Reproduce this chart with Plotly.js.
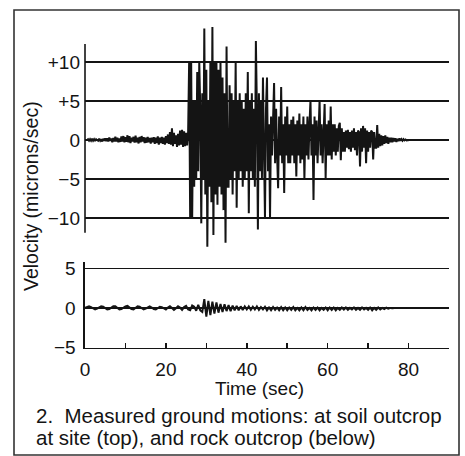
<!DOCTYPE html>
<html>
<head>
<meta charset="utf-8">
<script src="https://cdn.plot.ly/plotly-3.0.1.min.js"></script>
<style>html,body{margin:0;padding:0;background:#fff;}#chart{width:465px;height:456px;}</style>
</head>
<body>
<div id="chart"></div>
<script>
// ---- Data ----
// Soil outcrop at site (top panel): velocity in microns/sec, sampled every 0.25 s from t = 0.5 s
const soilStart = 0.5;
const soilStep = 0.25;
const soilVelocity = [
  // 0.5 - 5.25 s
  0, 0.1, -0.1, 0.1, -0.1, 0.15, -0.1, 0.1, -0.15, 0.1, 0, -0.1, 0.15, -0.1, 0.1, -0.2, 0.15, -0.1, 0.2, -0.15,
  // 5.5 - 10.25 s
  0.2, -0.2, 0.3, -0.1, 0.2, -0.3, 0.25, -0.2, 0.4, -0.2, 0.3, -0.3, 0.2, -0.25, 0.45, -0.2, 0.5, -0.3, 0.35, -0.25,
  // 10.5 - 15.25 s
  0.6, -0.3, 0.5, -0.4, 0.3, -0.2, 0.4, -0.35, 0.55, -0.3, 0.3, -0.45, 0.4, -0.3, 0.5, -0.2, 0.35, -0.4, 0.3, -0.35,
  // 15.5 - 20.25 s
  0.4, -0.3, 0.25, -0.45, 0.3, -0.3, 0.35, -0.5, 0.3, -0.4, 0.45, -0.6, 0.3, -0.4, 0.4, -0.5, 0.3, -0.6, 0.5, -0.4,
  // 20.5 - 25.25 s
  0.7, -0.5, 1.0, -0.6, 1.5, -0.8, 0.9, -0.5, 0.6, -0.9, 0.8, -0.7, 1.2, -0.6, 1.3, -0.9, 1.1, -0.8, 0.9, -0.7,
  // 25.5 - 30.25 s
  1.0, 10, -10, 10, -10, 5, -6, 5, -5, 8.7, -4, 10, 4, -10.7, 6, -5, 14.3, -7, 9, -13.7,
  // 30.5 - 35.25 s
  5, -6, 10, -8, 14.5, -12.2, 10, -7, 10, -8.3, 9, -6, 10, -7, 8, -9, 6, -13.2, 12, -6,
  // 35.5 - 40.25 s
  -6, 7, -5, 6, -7, 5, -4, 9.9, -8.7, 5, -5, 6, -4, 5, -6, 4, -5, 6, -4, 8.7,
  // 40.5 - 45.25 s
  -9.4, 5, -4, 6, -5, 4, -6, 12.7, 4, -11.5, 6, -4, 5, -5, 8, -3, -10, 4, 8, -4,
  // 45.5 - 50.25 s
  2, -10, 3, -2, 4, 7.3, -3, 4, -2, -6.2, 3, -2, 6.8, -3, 2, -6.8, 3, -2, 4.3, -3,
  // 50.5 - 55.25 s
  2, -3, 2.6, -2, 3, -3, 2, -4.7, 2.5, -2, 3.4, -3, 2, -2.5, 3, -5, 2, -2, 3, -2.5,
  // 55.5 - 60.25 s
  2, 5.1, -2, 2, -7.7, 3, -2, 2.5, -3, 2, 5.1, -2, 2, -3, 2, 4.6, -4.9, 2, -2, 2.5,
  // 60.5 - 65.25 s
  -2, 4.3, -2.5, 2, -1.5, 2, -2, 1.5, -1.5, 1.8, 2.2, -2.6, 1.5, -1.5, 1, -1.5, 1.2, -1, 1.3, -1.2,
  // 65.5 - 70.25 s
  1, -1.5, 1.2, -1, 1.5, -1.3, 1, -2, 1.2, 1, -3.4, 1.5, -1.5, 1.8, -1, 1.5, -3.0, 1.2, -1.5, 1,
  // 70.5 - 75.25 s
  -1, 1.2, 1, -2.5, 1, -1, -1, 1.9, -1, 0.8, -0.8, 0.6, -0.7, 0.5, -0.5, 0.6, -0.4, 0.4, -0.5, 0.3,
  // 75.5 - 80.5 s
  -0.3, 0.3, -0.3, 0.25, -0.2, 0.2, -0.25, 0.15, -0.15, 0.2, -0.1, 0.1, -0.1, 0.1, -0.05, 0.05, -0.05, 0, 0, 0, 0
];

// Rock outcrop (bottom panel): velocity in microns/sec, sampled every 0.5 s from t = 0 s
const rockStart = 0;
const rockStep = 0.5;
const rockVelocity = [
  // 0 - 9.5 s
  0, 0.1, 0.2, 0.1, -0.1, -0.2, -0.1, 0.1, 0.2, 0.15, -0.05, -0.2, -0.15, 0.05, 0.2, 0.2, 0, -0.2, -0.15, 0.05,
  // 10 - 19.5 s
  0.2, 0.25, 0.05, -0.15, -0.2, 0, 0.2, 0.15, -0.05, -0.2, -0.1, 0.1, 0.2, 0.05, -0.15, -0.2, 0, 0.15, 0.1, -0.1,
  // 20 - 29.5 s
  -0.2, 0.05, 0.2, 0, -0.25, -0.05, 0.2, 0.05, -0.25, 0.1, 0.25, -0.2, -0.3, 0.3, 0.15, -0.35, 0.4, -0.3, -0.5, 1.1,
  // 30 - 39.5 s
  -1.1, 0.9, -0.9, 0.8, -0.7, 0.7, -0.6, 0.5, -0.5, 0.45, -0.4, 0.35, -0.4, 0.3, -0.3, 0.25, -0.3, 0.2, -0.25, 0.2,
  // 40 - 49.5 s
  -0.2, 0.2, -0.25, 0.15, -0.2, 0.2, -0.25, 0.1, -0.2, 0.15, -0.3, 0.05, -0.3, 0.1, -0.25, 0.05, -0.3, 0.1, -0.3, 0.05,
  // 50 - 59.5 s
  -0.3, 0.05, -0.25, 0.1, -0.3, 0, -0.3, 0.05, -0.3, 0.1, -0.25, 0, -0.3, 0.05, -0.25, 0.05, -0.3, 0, -0.25, 0.05,
  // 60 - 69.5 s
  -0.3, 0.05, -0.25, 0.05, -0.3, 0, -0.25, 0.05, -0.2, 0.05, -0.25, 0, -0.2, 0.05, -0.25, 0, -0.25, 0.05, -0.2, 0,
  // 70 - 79.5 s
  -0.25, 0.05, -0.3, 0, -0.25, 0.05, -0.2, 0, -0.15, 0.02, -0.1, 0, -0.05, 0, -0.02, 0, 0, 0, 0, 0
];

const timeTicks = [0, 10, 20, 30, 40, 50, 60, 70, 80, 90];
const timeTickLabels = ['0', '', '20', '', '40', '', '60', '', '80', ''];
const soilTicks = [-10, -5, 0, 5, 10];
const soilTickLabels = ['\u221210', '\u22125', '0', '+5', '+10'];
const rockTicks = [-5, 0, 5];
const rockTickLabels = ['\u22125', '0', '5'];

const xTitle = 'Time (sec)';
const yTitle = 'Velocity (microns/sec)';
const captionLines = ['2.  Measured ground motions: at soil outcrop', 'at site (top), and rock outcrop (below)'];

// ---- Build traces ----
const soilTime = soilVelocity.map((_, i) => soilStart + i * soilStep);
const rockTime = rockVelocity.map((_, i) => rockStart + i * rockStep);

const ink = '#141414';
const font = 'Liberation Sans, Arial, Helvetica, sans-serif';

const W = 465, H = 456;
const px = v => v / W;          // horizontal pixel -> paper
const py = v => 1 - v / H;      // vertical pixel -> paper

const traces = [
  { x: soilTime, y: soilVelocity, xaxis: 'x', yaxis: 'y2', type: 'scatter', mode: 'lines',
    line: { color: ink, width: 2 }, hoverinfo: 'skip' },
  { x: rockTime, y: rockVelocity, xaxis: 'x', yaxis: 'y', type: 'scatter', mode: 'lines',
    line: { color: ink, width: 2 }, hoverinfo: 'skip' }
];

const plotLeft = 85, plotRight = 449;

const layout = {
  width: W, height: H,
  margin: { l: 0, r: 0, t: 0, b: 0 },
  paper_bgcolor: '#ffffff', plot_bgcolor: 'rgba(0,0,0,0)',
  showlegend: false,
  font: { family: font, color: ink, size: 19 },
  xaxis: {
    domain: [px(plotLeft), px(plotRight)],
    range: [0, 90], anchor: 'y',
    tickmode: 'array', tickvals: timeTicks, ticktext: timeTickLabels,
    ticks: 'inside', ticklen: 5, tickwidth: 1.6, tickcolor: ink,
    showline: true, linecolor: ink, linewidth: 1.6,
    showgrid: false, zeroline: false,
    tickfont: { size: 19, color: ink }, ticklabelstandoff: 4
  },
  yaxis: {
    domain: [py(347.5), py(262)],
    range: [-5, 5.8], anchor: 'x',
    tickmode: 'array', tickvals: rockTicks, ticktext: rockTickLabels,
    ticks: '', showline: true, linecolor: ink, linewidth: 1.6,
    showgrid: true, gridcolor: ink, gridwidth: 1.5, zeroline: false,
    tickfont: { size: 19, color: ink }, ticklabelstandoff: 4
  },
  yaxis2: {
    domain: [py(253), py(23)],
    range: [-14.5, 15], anchor: 'x',
    tickmode: 'array', tickvals: soilTicks, ticktext: soilTickLabels,
    ticks: '', showline: false,
    showgrid: true, gridcolor: ink, gridwidth: 1.5, zeroline: false,
    tickfont: { size: 19, color: ink }, ticklabelstandoff: 4
  },
  shapes: [
    // vertical axis line of the top panel (shorter than the data range)
    { type: 'line', xref: 'paper', yref: 'y2', x0: px(plotLeft), x1: px(plotLeft), y0: -11.9, y1: 12.3,
      line: { color: ink, width: 1.6 } },
    // outer frame
    { type: 'rect', xref: 'paper', yref: 'paper', x0: px(14), x1: px(459), y0: py(455), y1: py(10),
      line: { color: '#333', width: 1.6 }, fillcolor: 'rgba(0,0,0,0)', layer: 'below' }
  ],
  annotations: [
    { text: xTitle, xref: 'paper', yref: 'paper', x: px(259), y: py(388), showarrow: false,
      xanchor: 'center', yanchor: 'middle', font: { size: 19, color: ink } },
    { text: yTitle, xref: 'paper', yref: 'paper', x: px(31), y: py(196), showarrow: false, textangle: -90,
      xanchor: 'center', yanchor: 'middle', font: { size: 19.5, color: ink } },
    { text: captionLines[0], xref: 'paper', yref: 'paper', x: px(34), y: py(415), showarrow: false,
      xanchor: 'left', yanchor: 'middle', font: { size: 20.5, color: ink } },
    { text: captionLines[1], xref: 'paper', yref: 'paper', x: px(34), y: py(437), showarrow: false,
      xanchor: 'left', yanchor: 'middle', font: { size: 20.5, color: ink } }
  ]
};

Plotly.newPlot('chart', traces, layout, { staticPlot: true, displayModeBar: false });
</script>
</body>
</html>
